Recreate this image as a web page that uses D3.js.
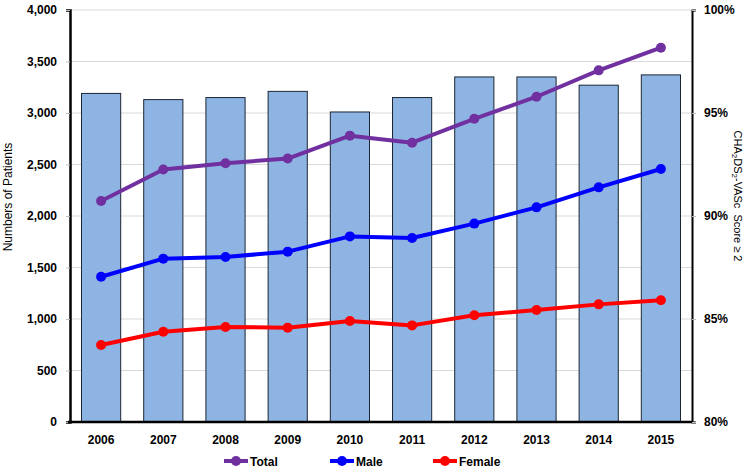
<!DOCTYPE html>
<html><head><meta charset="utf-8">
<script src="https://cdn.jsdelivr.net/npm/d3@7"></script>
<style>body{margin:0;background:#fff;} text{font-family:"Liberation Sans",Arial,sans-serif;}</style>
</head><body>
<svg id="chart" width="745" height="468"></svg>
<script>
const years = ["2006","2007","2008","2009","2010","2011","2012","2013","2014","2015"];
const patients = [3190, 3130, 3150, 3210, 3010, 3150, 3350, 3350, 3270, 3370];
const totalPct = [90.73, 92.26, 92.56, 92.79, 93.90, 93.56, 94.72, 95.79, 97.07, 98.17];
const malePct = [87.05, 87.93, 88.01, 88.27, 89.01, 88.93, 89.63, 90.42, 91.39, 92.28];
const femalePct = [83.74, 84.38, 84.61, 84.58, 84.90, 84.69, 85.18, 85.44, 85.71, 85.91];
const leftTicks = [0, 500, 1000, 1500, 2000, 2500, 3000, 3500, 4000];
const rightTicks = [80, 85, 90, 95, 100];
const seriesNames = ["Total", "Male", "Female"];
const seriesColors = ["#7030A0", "#0000FF", "#FF0000"];

const svg = d3.select("#chart");
const L = 70, R = 692, T = 10, B = 422;

const x = d3.scaleBand().domain(years).range([L, R]).paddingInner(0.37).paddingOuter(0.185);
const yL = d3.scaleLinear().domain([0, 4000]).range([B, T]);
const yR = d3.scaleLinear().domain([80, 100]).range([B, T]);

// gridlines
svg.append("g").selectAll("line").data(leftTicks.slice(1)).join("line")
  .attr("x1", L).attr("x2", R).attr("y1", d => yL(d)).attr("y2", d => yL(d))
  .attr("stroke", "#d9d9d9").attr("stroke-width", 1.2);

// bars
svg.append("g").selectAll("rect").data(patients).join("rect")
  .attr("x", (d, i) => x(years[i])).attr("width", x.bandwidth())
  .attr("y", d => yL(d)).attr("height", d => B - yL(d))
  .attr("fill", "#8EB4E3").attr("stroke", "#1a2633").attr("stroke-width", 1);

// left axis
const axL = svg.append("g").attr("transform", `translate(${L},0)`)
  .call(d3.axisLeft(yL).tickValues(leftTicks).tickFormat(d3.format(",")).tickSize(4).tickPadding(9));
axL.select(".domain").attr("stroke", "#000").attr("stroke-width", 2.5);
axL.selectAll(".tick line").attr("stroke", "#bbb");
axL.selectAll("text").attr("font-size", 12).attr("font-weight", "bold").attr("fill", "#000");

// right axis
const axR = svg.append("g").attr("transform", `translate(${R},0)`)
  .call(d3.axisRight(yR).tickValues(rightTicks).tickFormat(d => d + "%").tickSize(4).tickPadding(8));
axR.select(".domain").attr("stroke", "#000").attr("stroke-width", 2);
axR.selectAll(".tick line").attr("stroke", "#bbb");
axR.selectAll("text").attr("font-size", 12).attr("font-weight", "bold").attr("fill", "#000");

// bottom axis
const axB = svg.append("g").attr("transform", `translate(0,${B})`)
  .call(d3.axisBottom(x).tickSize(0).tickPadding(13));
axB.select(".domain").attr("stroke", "#000").attr("stroke-width", 2.5).attr("d", `M${L-2},0H${R}`);
axB.selectAll("text").attr("font-size", 12).attr("font-weight", "bold").attr("fill", "#000");

// lines
const allSeries = [totalPct, malePct, femalePct];
const line = d3.line().x((d, i) => x(years[i]) + x.bandwidth() / 2).y(d => yR(d));
allSeries.forEach((s, k) => {
  const g = svg.append("g");
  g.append("path").datum(s).attr("d", line).attr("fill", "none")
    .attr("stroke", seriesColors[k]).attr("stroke-width", 4).attr("stroke-linejoin", "round");
  g.selectAll("circle").data(s).join("circle")
    .attr("cx", (d, i) => x(years[i]) + x.bandwidth() / 2).attr("cy", d => yR(d))
    .attr("r", 5).attr("fill", seriesColors[k]);
});

// axis titles
svg.append("text").attr("transform", "translate(12,197) rotate(-90)")
  .attr("text-anchor", "middle").attr("font-size", 12).text("Numbers of Patients");

const rt = svg.append("text").attr("transform", "translate(734,196) rotate(90)")
  .attr("text-anchor", "middle").attr("font-size", 11);
rt.append("tspan").text("CHA");
rt.append("tspan").attr("font-size", 8).attr("dy", 2).text("2");
rt.append("tspan").attr("dy", -2).text("DS");
rt.append("tspan").attr("font-size", 8).attr("dy", 2).text("2");
rt.append("tspan").attr("dy", -2).text("-VASc\u00a0\u00a0Score \u2265 2");

// legend
const legX = [224, 330, 433];
const lg = svg.append("g");
seriesNames.forEach((n, k) => {
  const gx = legX[k], gy = 461;
  lg.append("line").attr("x1", gx).attr("x2", gx + 24).attr("y1", gy).attr("y2", gy)
    .attr("stroke", seriesColors[k]).attr("stroke-width", 4);
  lg.append("circle").attr("cx", gx + 12).attr("cy", gy).attr("r", 5).attr("fill", seriesColors[k]);
  lg.append("text").attr("x", gx + 26).attr("y", gy + 4.5).attr("font-size", 12)
    .attr("font-weight", "bold").text(n);
});
</script>
</body></html>
